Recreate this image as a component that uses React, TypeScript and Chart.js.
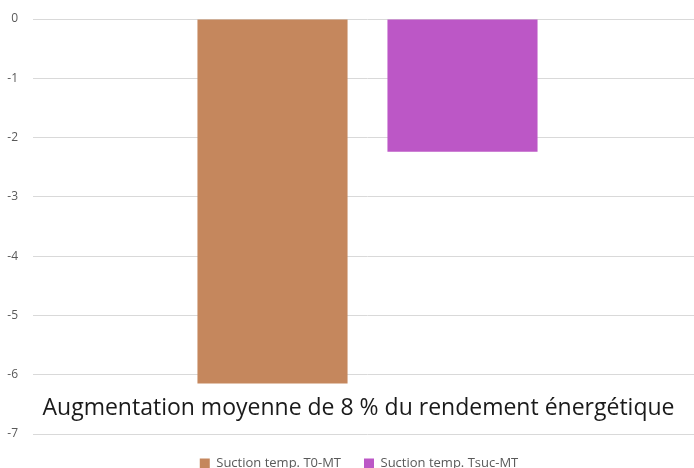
import React, { useEffect, useRef } from "react";
import { Chart, registerables } from "chart.js";

Chart.register(...registerables);

const categories = ["Augmentation moyenne de 8 % du rendement énergétique"];
const seriesNames = ["Suction temp. T0-MT", "Suction temp. Tsuc-MT"];
const seriesT0 = [-6.15];
const seriesTsuc = [-2.24];
const colors = ["#C5875D", "#BC57C6"];

const FONT = "'Open Sans', 'Noto Sans', sans-serif";

const categoryLabelPlugin = {
  id: "categoryLabel",
  afterLayout(chart: any) {
    if (chart.legend) {
      chart.legend.left += 16;
    }
  },
  afterDraw(chart: any) {
    const { ctx, chartArea, scales } = chart;
    const x = scales.x;
    ctx.save();
    ctx.font = `23px ${FONT}`;
    ctx.fillStyle = "#1a1a1a";
    ctx.textAlign = "center";
    ctx.textBaseline = "middle";
    categories.forEach((c, i) => {
      ctx.fillText(c, x.getPixelForValue(i) - 9, chartArea.bottom - 26);
    });
    ctx.restore();
  },
};

export default function App() {
  const ref = useRef<HTMLCanvasElement>(null);
  useEffect(() => {
    if (!ref.current) return;
    const chart = new Chart(ref.current, {
      type: "bar",
      data: {
        labels: categories,
        datasets: [
          { label: seriesNames[0], data: seriesT0, backgroundColor: colors[0] },
          { label: seriesNames[1], data: seriesTsuc, backgroundColor: colors[1] },
        ],
      },
      options: {
        animation: false,
        responsive: false,
        maintainAspectRatio: false,
        layout: { padding: { left: 0, right: 0, top: 19, bottom: -12 } },
        datasets: { bar: { categoryPercentage: 0.568, barPercentage: 0.79 } },
        scales: {
          x: {
            display: false,
          },
          y: {
            min: -7,
            max: 0,
            afterFit: (s: any) => {
              s.width = 33;
              s.paddingTop = 0;
              s.paddingBottom = 0;
            },
            ticks: { stepSize: 1, color: "#595959", font: { family: FONT, size: 12 }, padding: 15 },
            grid: { color: "#D9D9D9", drawTicks: false },
            border: { display: false },
          },
        },
        plugins: {
          legend: {
            position: "bottom",
            labels: {
              boxWidth: 10,
              boxHeight: 10,
              color: "#595959",
              font: { family: FONT, size: 13 },
              padding: 23,
            },
          },
          tooltip: { enabled: false },
        },
      },
      plugins: [categoryLabelPlugin],
    });
    return () => chart.destroy();
  }, []);
  return (
    <div style={{ position: "fixed", left: 0, top: 0, width: 694, height: 468, background: "#fff", overflow: "hidden" }}>
      <canvas ref={ref} width={702} height={468} style={{ width: 702, height: 468, display: "block" }} />
    </div>
  );
}
